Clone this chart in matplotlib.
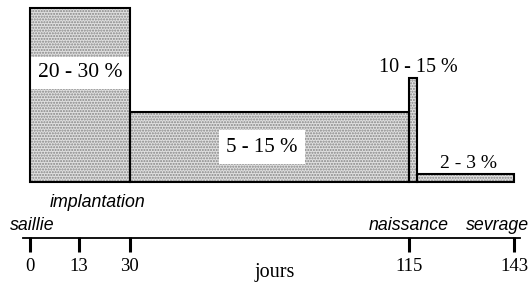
import matplotlib
matplotlib.use('Agg')
import matplotlib.pyplot as plt
import numpy as np

# phases of the cycle (jours) and relative bar heights
starts = [0, 30, 115, 117]
ends = [30, 115, 117, 143]
heights = [100, 40, 60, 4.6]
labels = ['20 - 30 %', '5 - 15 %', '10 - 15 %', '2 - 3 %']

tick_days = [0, 13, 30, 115, 143]
events = ['saillie', 'implantation', 'naissance', 'sevrage']

# the time axis is schematic, not linear: where each day sits across the figure
day_pts = [-8, 0, 13, 30, 115, 143, 147.8]
pos_pts = [0, 30, 79, 129.5, 409, 514, 532]


def fwd(x):
    return np.interp(x, day_pts, pos_pts)


def inv(x):
    return np.interp(x, pos_pts, day_pts)


serif = 'Liberation Serif'
sans = 'Liberation Sans'
gray_fill = '#e0e0e0'
dot_color = '#858585'

fig = plt.figure(figsize=(5.32, 2.88), dpi=100)
ax = fig.add_axes([0, 0, 1, 1])
ax.set_xscale('function', functions=(fwd, inv))
ax.set_xlim(-8, 147.8)
ax.set_ylim(-60.9, 104.6)
ax.axis('off')

lefts = np.array(starts)
widths = np.array(ends) - np.array(starts)

# stippled fill
ax.bar(lefts, heights, width=widths, align='edge', color=gray_fill,
       edgecolor=dot_color, hatch='......', linewidth=0)
# white band in the first bar for its label
ax.bar(lefts[0], 18.4, bottom=53.4, width=widths[0], align='edge',
       color='white', linewidth=0)
# outlines
ax.bar(lefts, heights, width=widths, align='edge', fill=False,
       edgecolor='black', linewidth=1.5)

mid0 = inv((fwd(starts[0]) + fwd(ends[0])) / 2)
ax.text(mid0, 63, labels[0], ha='center', va='center',
        fontsize=15.5, family=serif)
ax.text(70.3, 20, labels[1], ha='center', va='center', fontsize=15,
        family=serif, bbox=dict(boxstyle='square,pad=0.35', fc='white', ec='none'))
ax.text(117.4, 66, labels[2], ha='center', va='center', fontsize=14.5,
        family=serif)
ax.text(130.9, 10.9, labels[3], ha='center', va='center', fontsize=14,
        family=serif)

# time line
ax.plot([-1.9, 144.6], [-32.2, -32.2], color='black', linewidth=1.3)
ax.vlines(tick_days, -40.2, -31.6, color='black', linewidth=2.2)
for d in tick_days:
    ax.text(d, -48.6, str(d), ha='center', va='center', fontsize=13.5,
            family=serif)
ax.text(0.517, (288 - 273) / 288, 'jours', transform=ax.transAxes,
        ha='center', va='center', fontsize=14.5, family=serif)

# events above the line
ev_x = [0.66, 19.1, 115, 138.6]
ev_y = [-24.7, -12, -24.7, -24.7]
for name, x, y in zip(events, ev_x, ev_y):
    ax.text(x, y, name, ha='center', va='center', fontsize=12.8,
            family=sans, style='italic')

fig.savefig('out.png', dpi=100)
